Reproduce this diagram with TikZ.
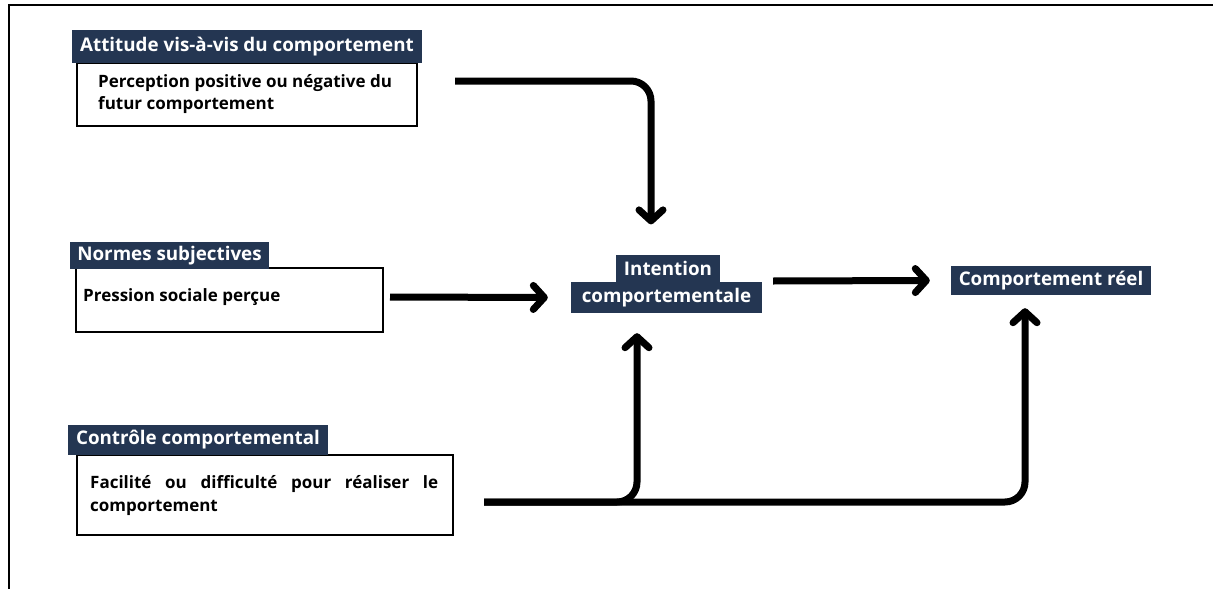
\documentclass[tikz,border=0pt]{standalone}
\usepackage{fontspec}
\setmainfont{Open Sans}
\usetikzlibrary{arrows.meta,calc}
\definecolor{navy}{RGB}{36,54,82}
\begin{document}
\begin{tikzpicture}[x=1pt,y=-1pt,
 hdr/.style={fill=navy,text=white,font=\fontsize{18.8}{22}\selectfont\bfseries,inner sep=0pt},
 bodybox/.style={draw=black,line width=1.3pt,fill=white,inner sep=0pt},
 btxt/.style={font=\fontsize{17}{22}\selectfont\bfseries,inner sep=0pt,anchor=west,align=left},
 arr/.style={line width=7pt,rounded corners=20pt,-{Straight Barb[round,length=11pt,width=24pt]}}]
\useasboundingbox (0,0) rectangle (1213,589);
% frame
\draw[line width=2.5pt] (8,5) -- (1213,5);
\draw[line width=2.5pt] (9,5) -- (9,589);
% box 1
\node[bodybox,minimum width=340pt,minimum height=63pt] (b1) at (247,94.5) {};
\node[hdr,minimum width=350pt,minimum height=33pt] (h1) at (247,46.5) {Attitude vis-à-vis du comportement};
\node[btxt] (t1) at (98,94.5) {Perception positive ou négative du\\futur comportement};
% box 2
\node[bodybox,minimum width=307pt,minimum height=64pt] (b2) at (229.5,300) {};
\node[hdr,minimum width=199pt,minimum height=27pt] (h2) at (169.5,255.5) {Normes subjectives};
\node[btxt] (t2) at (83,297) {Pression sociale perçue};
% box 3
\node[bodybox,minimum width=376pt,minimum height=80pt] (b3) at (265,495) {};
\node[hdr,minimum width=260pt,minimum height=30pt] (h3) at (198,440) {Contrôle comportemental};
\node[btxt,font=\fontsize{17}{23}\selectfont\bfseries] (t3) at (90,496) {\makebox[348pt][s]{Facilité ou difficulté pour réaliser le}\\comportement};
% intention
\node[hdr,minimum width=191pt,minimum height=31pt] (int) at (666.5,297.5) {comportementale};
\node[hdr,minimum width=104pt,minimum height=27pt,anchor=south] (inttab) at ($(int.north)+(1.5,0)$) {Intention};
% comportement reel
\node[hdr,minimum width=200pt,minimum height=29pt] (cr) at (1051,280.5) {Comportement réel};
% connectors
\coordinate (s1) at (455,81);
\coordinate (s2) at (390,297);
\coordinate (s3) at (484,502);
\coordinate (s4) at (773,281);
\draw[arr] (s1) -| ($(inttab.north)+(-17,-30)$);
\draw[arr] (s2) -- ($(int.west)+(-23,0)$);
\draw[arr] (s3) -| ($(int.south)+(-29.5,20)$);
\draw[arr] (s3) -| ($(cr.south)+(-26,13)$);
\draw[arr] (s4) -- ($(cr.west)+(-21,0)$);
\end{tikzpicture}
\end{document}
